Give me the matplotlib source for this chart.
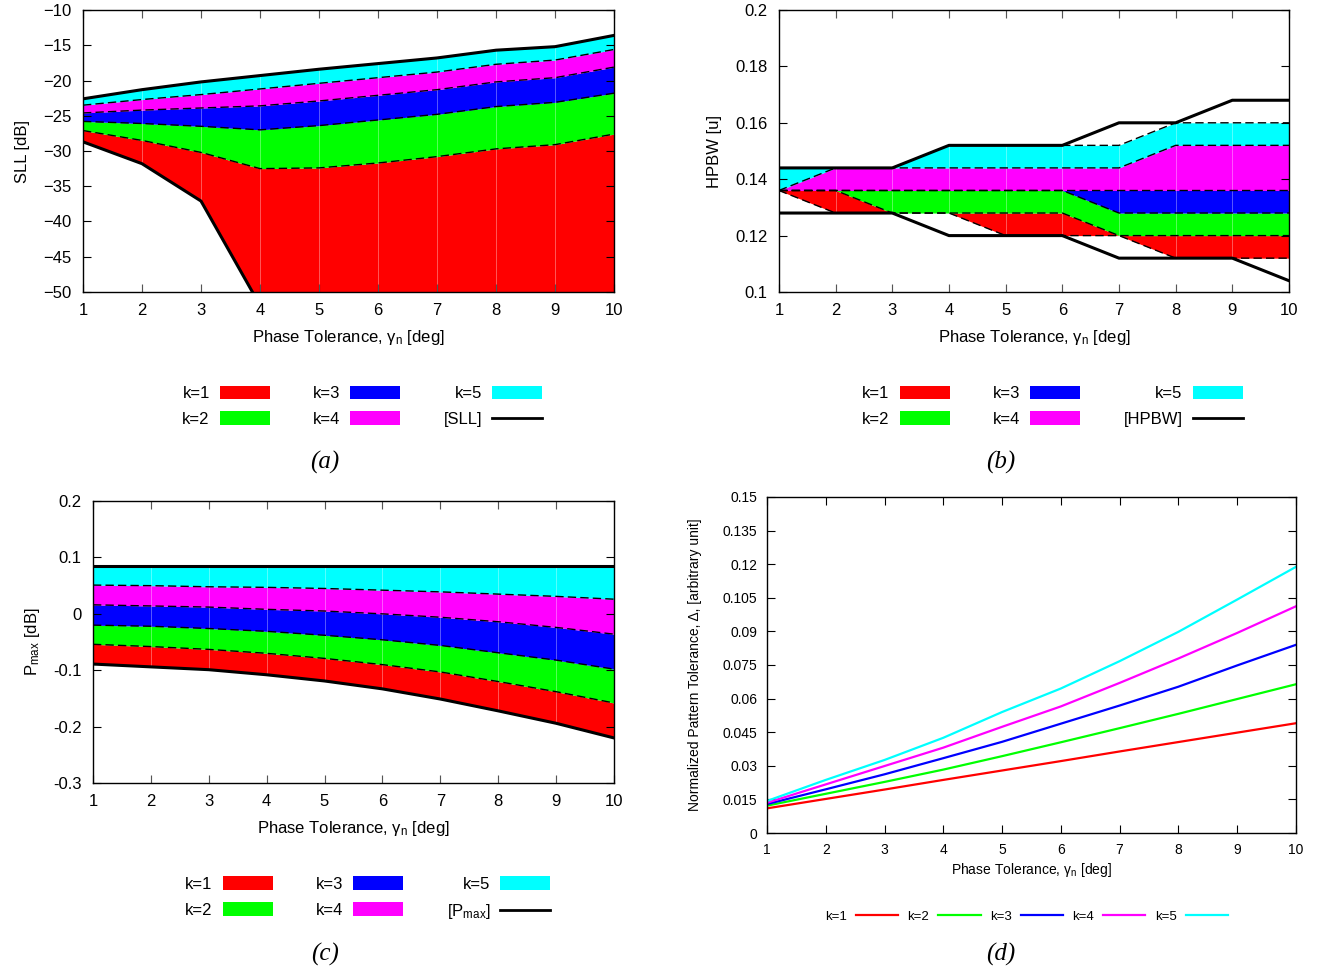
"""
Tolerance analysis figure: SLL, HPBW, Pmax bands and pattern tolerance vs phase tolerance.
"""
import matplotlib
matplotlib.use("Agg")
import matplotlib.pyplot as plt
from matplotlib.patches import Patch
from matplotlib.lines import Line2D

plt.rcParams["font.family"] = ["Liberation Sans", "DejaVu Sans"]
plt.rcParams["mathtext.fontset"] = "custom"
plt.rcParams["mathtext.rm"] = "Liberation Sans"
plt.rcParams["mathtext.it"] = "Liberation Sans:italic"

x = [1, 2, 3, 4, 5, 6, 7, 8, 9, 10]
k_labels = ["k=1", "k=2", "k=3", "k=4", "k=5"]
k_colors = ["#ff0000", "#00ff00", "#0000ff", "#ff00ff", "#00ffff"]

# (a) SLL [dB]: band edges from bottom to top
sll_min = [-28.7, -31.8, -37.1, -51.9, -54.0, -55.0, -56.0, -57.0, -58.0, -58.0]
sll_k1 = [-27.1, -28.5, -30.2, -32.5, -32.4, -31.7, -30.8, -29.7, -29.1, -27.6]
sll_k2 = [-25.8, -26.1, -26.5, -27.0, -26.4, -25.6, -24.8, -23.7, -23.1, -21.8]
sll_k3 = [-24.6, -24.2, -23.9, -23.6, -22.9, -22.1, -21.3, -20.2, -19.6, -18.1]
sll_k4 = [-23.5, -22.7, -22.0, -21.2, -20.4, -19.6, -18.8, -17.7, -17.1, -15.6]
sll_max = [-22.6, -21.3, -20.2, -19.3, -18.4, -17.6, -16.8, -15.7, -15.2, -13.6]

# (b) HPBW [u]
hpbw_k0 = [0.136, 0.128, 0.128, 0.128, 0.120, 0.120, 0.120, 0.112, 0.112, 0.112]
hpbw_k1 = [0.136, 0.136, 0.128, 0.128, 0.128, 0.128, 0.120, 0.120, 0.120, 0.120]
hpbw_k2 = [0.136, 0.136, 0.136, 0.136, 0.136, 0.136, 0.128, 0.128, 0.128, 0.128]
hpbw_k3 = [0.136, 0.136, 0.136, 0.136, 0.136, 0.136, 0.136, 0.136, 0.136, 0.136]
hpbw_k4 = [0.136, 0.144, 0.144, 0.144, 0.144, 0.144, 0.144, 0.152, 0.152, 0.152]
hpbw_k5 = [0.144, 0.144, 0.144, 0.152, 0.152, 0.152, 0.152, 0.160, 0.160, 0.160]
hpbw_min = [0.128, 0.128, 0.128, 0.120, 0.120, 0.120, 0.112, 0.112, 0.112, 0.104]
hpbw_max = [0.144, 0.144, 0.144, 0.152, 0.152, 0.152, 0.160, 0.160, 0.168, 0.168]

# (c) Pmax [dB]
pmax_min = [-0.089, -0.094, -0.099, -0.108, -0.119, -0.133, -0.151, -0.172, -0.194, -0.220]
pmax_k1 = [-0.054, -0.058, -0.063, -0.070, -0.079, -0.090, -0.103, -0.120, -0.138, -0.158]
pmax_k2 = [-0.020, -0.022, -0.026, -0.031, -0.038, -0.046, -0.056, -0.069, -0.082, -0.098]
pmax_k3 = [0.016, 0.014, 0.012, 0.008, 0.005, 0.000, -0.006, -0.014, -0.024, -0.036]
pmax_k4 = [0.051, 0.050, 0.048, 0.047, 0.045, 0.042, 0.039, 0.035, 0.031, 0.026]
pmax_max = [0.085, 0.085, 0.085, 0.085, 0.085, 0.085, 0.085, 0.085, 0.085, 0.085]

# (d) normalized pattern tolerance
delta_k1 = [0.0110, 0.0152, 0.0194, 0.0237, 0.0279, 0.0321, 0.0364, 0.0406, 0.0448, 0.0490]
delta_k2 = [0.0122, 0.0175, 0.0228, 0.0283, 0.0343, 0.0405, 0.0468, 0.0532, 0.0598, 0.0664]
delta_k3 = [0.0129, 0.0195, 0.0262, 0.0334, 0.0407, 0.0488, 0.0569, 0.0653, 0.0748, 0.0840]
delta_k4 = [0.0135, 0.0217, 0.0299, 0.0381, 0.0474, 0.0565, 0.0670, 0.0779, 0.0893, 0.1012]
delta_k5 = [0.0143, 0.0237, 0.0326, 0.0425, 0.0540, 0.0645, 0.0767, 0.0898, 0.1042, 0.1188]

xlabel = "Phase Tolerance, γ$_\\mathregular{n}$ [deg]"
dash = (0, (6, 3))


def style_axes(ax, size=12, pad=8):
    ax.tick_params(direction="in", top=True, right=True, length=6,
                   width=0.8, labelsize=size, pad=pad)
    ax.set_xlim(1, 10)
    ax.set_xticks(x)
    for s in ax.spines.values():
        s.set_linewidth(1.0)


def draw_bands(ax, edges):
    for i, c in enumerate(k_colors):
        ax.fill_between(x, edges[i], edges[i + 1], color=c, lw=0, zorder=1)
    ax.vlines(x[1:-1], -100, 100, colors="white", lw=0.6, alpha=0.4, zorder=2)


def band_legend(fig, anchor, bound_label):
    handles = [Patch(facecolor=c, edgecolor="none") for c in k_colors]
    handles.append(Line2D([], [], color="k", lw=2))
    fig.legend(handles, k_labels + [bound_label], loc="center",
               bbox_to_anchor=anchor, ncol=3, frameon=False, fontsize=12,
               markerfirst=False, handlelength=3.0, handleheight=0.9,
               handletextpad=0.6, columnspacing=2.6, labelspacing=0.6)


def caption(fig, xpos, ypos, text):
    fig.text(xpos, ypos, text, fontsize=18, family="Liberation Serif",
             style="italic", ha="center", va="center")


fig = plt.figure(figsize=(13.32, 9.72), dpi=100)

# (a)
ax_a = fig.add_axes([0.0623, 0.6996, 0.3987, 0.2901])
sll_edges = [sll_min, sll_k1, sll_k2, sll_k3, sll_k4, sll_max]
draw_bands(ax_a, sll_edges)
for e in sll_edges[1:-1]:
    ax_a.plot(x, e, color="k", lw=1.0, ls=dash, zorder=3)
ax_a.plot(x, sll_min, color="k", lw=2.2, zorder=4)
ax_a.plot(x, sll_max, color="k", lw=2.2, zorder=4)
ax_a.set_ylim(-50, -10)
ax_a.set_yticks([-10, -15, -20, -25, -30, -35, -40, -45, -50])
style_axes(ax_a)
ax_a.set_xlabel(xlabel, fontsize=12, labelpad=7)
ax_a.set_ylabel("SLL [dB]", fontsize=12, labelpad=10)
band_legend(fig, (0.272, 0.582), "[SLL]")
caption(fig, 0.244, 0.524, "(a)")

# (b)
ax_b = fig.add_axes([0.5848, 0.6996, 0.3829, 0.2901])
hpbw_edges = [hpbw_k0, hpbw_k1, hpbw_k2, hpbw_k3, hpbw_k4, hpbw_k5]
draw_bands(ax_b, hpbw_edges)
for e in hpbw_edges:
    ax_b.plot(x, e, color="k", lw=1.0, ls=dash, zorder=3)
ax_b.plot(x, hpbw_min, color="k", lw=2.2, zorder=4)
ax_b.plot(x, hpbw_max, color="k", lw=2.2, zorder=4)
ax_b.set_ylim(0.1, 0.2)
ax_b.set_yticks([0.1, 0.12, 0.14, 0.16, 0.18, 0.2])
ax_b.set_yticklabels(["0.1", "0.12", "0.14", "0.16", "0.18", "0.2"])
style_axes(ax_b)
ax_b.set_xlabel(xlabel, fontsize=12, labelpad=7)
ax_b.set_ylabel("HPBW [u]", fontsize=12, labelpad=10)
band_legend(fig, (0.790, 0.582), "[HPBW]")
caption(fig, 0.751, 0.524, "(b)")

# (c)
ax_c = fig.add_axes([0.0698, 0.1944, 0.3911, 0.2901])
pmax_edges = [pmax_min, pmax_k1, pmax_k2, pmax_k3, pmax_k4, pmax_max]
draw_bands(ax_c, pmax_edges)
for e in pmax_edges[1:-1]:
    ax_c.plot(x, e, color="k", lw=1.0, ls=dash, zorder=3)
ax_c.plot(x, pmax_min, color="k", lw=2.2, zorder=4)
ax_c.plot(x, pmax_max, color="k", lw=2.2, zorder=4)
ax_c.set_ylim(-0.3, 0.2)
ax_c.set_yticks([-0.3, -0.2, -0.1, 0, 0.1, 0.2])
ax_c.set_yticklabels(["-0.3", "-0.2", "-0.1", "0", "0.1", "0.2"])
style_axes(ax_c)
ax_c.set_xlabel(xlabel, fontsize=12, labelpad=7)
ax_c.set_ylabel("P$_\\mathregular{max}$ [dB]", fontsize=12, labelpad=8)
band_legend(fig, (0.276, 0.0755), "[P$_\\mathregular{max}$]")
caption(fig, 0.244, 0.018, "(c)")

# (d)
ax_d = fig.add_axes([0.5758, 0.1430, 0.3971, 0.3457])
delta_series = [delta_k1, delta_k2, delta_k3, delta_k4, delta_k5]
for vals, c, lab in zip(delta_series, k_colors, k_labels):
    ax_d.plot(x, vals, color=c, lw=1.6, label=lab)
ax_d.set_ylim(0, 0.15)
ticks_d = [0, 0.015, 0.03, 0.045, 0.06, 0.075, 0.09, 0.105, 0.12, 0.135, 0.15]
ax_d.set_yticks(ticks_d)
ax_d.set_yticklabels(["0", "0.015", "0.03", "0.045", "0.06", "0.075", "0.09",
                      "0.105", "0.12", "0.135", "0.15"])
style_axes(ax_d, size=10, pad=7)
ax_d.set_xlabel(xlabel, fontsize=10, labelpad=3)
ax_d.set_ylabel("Normalized Pattern Tolerance, Δ, [arbitrary unit]",
                fontsize=10, labelpad=15)
ax_d.legend(loc="center", bbox_to_anchor=(0.7705, 0.0567),
            bbox_transform=fig.transFigure, ncol=5, frameon=False,
            fontsize=9.5, markerfirst=False, handlelength=3.2,
            handletextpad=0.7, columnspacing=0.7)
caption(fig, 0.751, 0.018, "(d)")

fig.savefig("out.png", dpi=100)
